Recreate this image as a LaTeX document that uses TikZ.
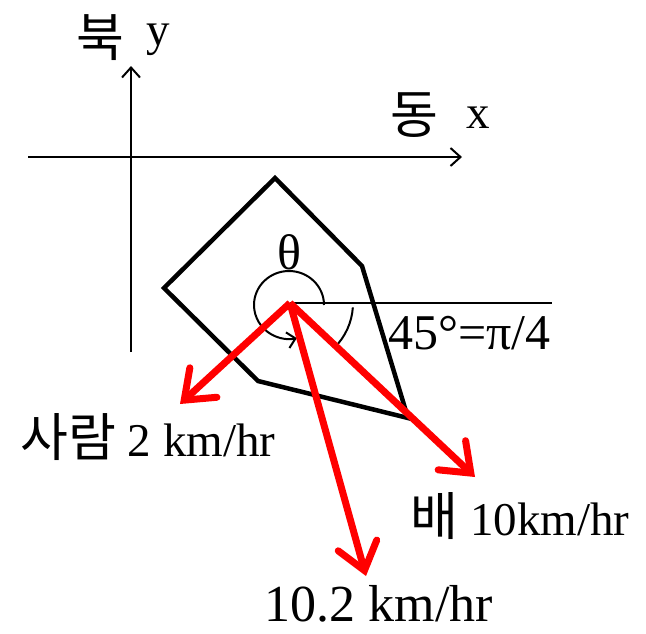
\documentclass[tikz,border=0pt]{standalone}
\usepackage{fontspec}
\setmainfont{Liberation Serif}
\newfontfamily\kr{Noto Sans CJK KR}
\newcommand{\krt}[1]{{\fontsize{52}{60}\selectfont\kr #1}}
\usetikzlibrary{arrows.meta}
\tikzset{
  axis/.style={line width=2pt,-{Straight Barb[length=10pt,width=18pt,line width=2pt]}},
  poly/.style={line width=4.5pt,line join=miter},
  vel/.style={red,line width=7pt,-{Straight Barb[length=26pt,width=40pt,line width=7pt,line cap=round]}},
  lbl/.style={font=\fontsize{47}{52}\selectfont,inner sep=0pt},
  big/.style={font=\fontsize{52}{56}\selectfont},
  thin/.style={line width=2pt}
}
\begin{document}
\begin{tikzpicture}[x=1pt,y=-1pt]
\useasboundingbox (0,0) rectangle (646,633);
% axes
\coordinate (xs) at (28,157); \coordinate (xe) at (462,157);
\coordinate (ys) at (131,352); \coordinate (ye) at (131,66);
\draw[axis] (xs) -- (xe);
\draw[axis] (ys) -- (ye);
\node[lbl] (nb) at (100,38) {\krt{북}};
\node[lbl] (ny) at (158,40) {y};
\node[lbl] (nd) at (414,115) {\krt{동}};
\node[lbl] (nx) at (478,118) {x};
% polygon
\draw[poly] (275,178) -- (362,266) -- (408,418) -- (258,381) -- (164,288) -- cycle;
% reference line
\coordinate (o) at (290,303);
\coordinate (h) at (552,303);
\draw[thin] (o) -- (h);
% theta arc
\draw[thin,-{Straight Barb[length=8pt,width=16pt,line width=2pt]}] (324,305) arc[start angle=0,end angle=-283,x radius=35,y radius=34];
\node[lbl,font=\fontsize{50}{54}\selectfont] (th) at (289,252) {θ};
% 45 arc
\draw[thin] (290,303) ++(4:63) arc[start angle=4,end angle=45,radius=63];
\node[lbl,anchor=west,font=\fontsize{50}{54}\selectfont] (ang) at (388,333) {45°=π/4};
% velocities
\coordinate (p) at (180,404);
\coordinate (b) at (475,477);
\coordinate (r) at (366,576);
\draw[vel] (o) -- (p);
\draw[vel] (o) -- (b);
\draw[vel] (o) -- (r);
\node[lbl] (lp) at (148,437) {\krt{사람} 2 km/hr};
\node[lbl] (lb) at (520,516) {\krt{배} 10km/hr};
\node[lbl,big] (lr) at (379,604) {10.2 km/hr};
\end{tikzpicture}
\end{document}
